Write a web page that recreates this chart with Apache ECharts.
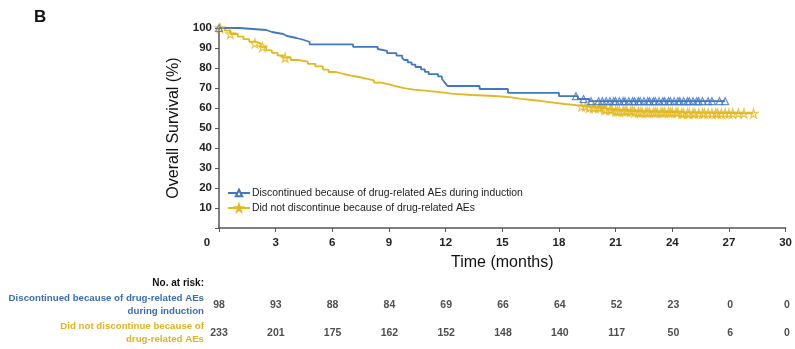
<!DOCTYPE html>
<html>
<head>
<meta charset="utf-8">
<script src="https://cdn.jsdelivr.net/npm/echarts@6/dist/echarts.min.js"></script>
<style>
  html, body { margin: 0; padding: 0; background: #fff; }
  #chart { width: 795px; height: 349px; }
</style>
</head>
<body>
<div id="chart"></div>
<script>
// Kaplan-Meier overall survival, months vs percent surviving
const seriesNames = [
  'Discontinued because of drug-related AEs during induction',
  'Did not discontinue because of drug-related AEs'
];
const riskRowLabels = [
  'Discontinued because of drug-related AEs\nduring induction',
  'Did not discontinue because of\ndrug-related AEs'
];

// Step points [month, survival % after the event]
const discCurve = [
  [0, 100], [1.1, 99], [2.5, 98], [2.8, 97], [3.4, 96], [3.6, 95], [4.1, 94], [4.5, 93],
  [4.8, 91.8], [7.1, 90.6], [8.4, 89.5], [8.5, 88.6], [8.9, 87.4], [9.4, 86.2], [9.7, 85.1],
  [9.8, 84.0], [10.0, 82.8], [10.2, 81.7], [10.4, 80.5], [10.7, 79.3], [10.9, 78.1],
  [11.1, 76.9], [11.6, 75.8], [11.8, 74.6], [11.9, 73.4], [12.0, 72.2], [12.1, 71.0],
  [13.8, 69.5], [15.3, 67.6], [18.0, 65.9], [19.0, 64.5], [19.6, 63.4], [26.8, 63.4]
];
const contCurve = [
  [0, 100], [0.3, 98.7], [0.6, 97.0], [1.0, 95.7], [1.3, 94.4], [1.6, 93.2], [1.9, 92.3],
  [2.2, 90.6], [2.5, 88.8], [2.8, 87.6], [3.1, 86.3], [3.4, 85.2], [3.8, 84.0], [4.2, 83.2],
  [4.7, 82.1], [5.1, 80.8], [5.5, 79.2], [5.8, 78.0], [6.2, 77.0], [6.6, 76.2], [7.0, 75.5],
  [7.4, 74.7], [7.8, 73.8], [8.2, 72.7], [8.6, 71.8], [9.0, 70.8], [9.4, 69.9], [9.8, 69.2],
  [10.3, 68.8], [10.8, 68.3], [11.3, 67.8], [11.8, 67.2], [12.3, 66.5], [13.4, 66.0],
  [14.6, 65.4], [15.4, 64.6], [16.0, 64.0], [16.6, 63.3], [17.2, 62.6], [17.8, 62.0],
  [18.3, 61.4], [18.9, 60.8], [19.6, 60.2], [20.3, 59.2], [20.9, 58.4], [22.0, 57.8],
  [24.5, 57.3], [28.3, 57.3]
];

// Censoring times (months)
const discCensored = [
  0, 18.9, 19.3, 19.7, 20.1, 20.3, 20.5, 20.7, 20.9, 21.0, 21.2, 21.4, 21.5, 21.7, 21.9,
  22.0, 22.2, 22.3, 22.5, 22.7, 22.8, 23.0, 23.1, 23.3, 23.5, 23.6, 23.8, 23.9, 24.1, 24.3,
  24.4, 24.6, 24.8, 24.9, 25.1, 25.3, 25.4, 25.6, 25.9, 26.1, 26.5, 26.8
];
const contCensored = [
  0.05, 0.6, 1.9, 2.3, 3.5, 19.2, 19.4, 19.6, 19.8, 19.9, 20.1, 20.2, 20.4, 20.5, 20.7,
  20.8, 21.0, 21.1, 21.2, 21.4, 21.5, 21.6, 21.8, 21.9, 22.0, 22.2, 22.3, 22.4, 22.6, 22.7,
  22.8, 23.0, 23.1, 23.2, 23.4, 23.5, 23.6, 23.8, 23.9, 24.0, 24.2, 24.3, 24.5, 24.6, 24.8,
  24.9, 25.1, 25.2, 25.4, 25.6, 25.7, 25.9, 26.1, 26.3, 26.4, 26.6, 26.8, 27.0, 27.2, 27.5,
  27.8, 28.3
];

// Numbers at risk
const riskTimes = [0, 3, 6, 9, 12, 15, 18, 21, 24, 27, 30];
const riskDisc = [98, 93, 88, 84, 69, 66, 64, 52, 23, 0, 0];
const riskCont = [233, 201, 175, 162, 152, 148, 140, 117, 50, 6, 0];

const yTicks = [10, 20, 30, 40, 50, 60, 70, 80, 90, 100];

const BLUE = '#4277c3';
const GOLD = '#e3b821';
const BLUE_TEXT = '#3b6db6';
const GOLD_TEXT = '#e2b320';
const FONT = "'Liberation Sans', Arial, sans-serif";
const STAR = 'path://M50,0 L61,35 L98,35 L68,57 L79,91 L50,70 L21,91 L32,57 L2,35 L39,35 Z';

// survival level in effect at time t on a step curve
function levelAt(curve, t) {
  let s = curve[0][1];
  for (const [ct, cs] of curve) { if (ct <= t) s = cs; else break; }
  return s;
}

const chart = echarts.init(document.getElementById('chart'), null, { renderer: 'canvas' });

chart.setOption({
  animation: false,
  backgroundColor: '#fff',
  textStyle: { fontFamily: FONT },
  title: {
    text: 'B', left: 29, top: 4,
    textStyle: { fontFamily: FONT, fontSize: 17, fontWeight: 'bold', color: '#111' }
  },
  graphic: [{
    type: 'text', right: 795 - 204, top: 278,
    style: { text: 'No. at risk:', font: "bold 10px " + FONT, fill: '#111', textAlign: 'right' }
  }],
  legend: {
    orient: 'vertical', left: 222, top: 183, itemGap: 5, itemWidth: 22, itemHeight: 8,
    textStyle: { fontFamily: FONT, fontSize: 10.4, color: '#1a1a1a', padding: [0, 0, 0, -3] },
    data: seriesNames
  },
  grid: [
    { left: 219, right: 8, top: 28, bottom: 121 },
    { left: 219, right: 8, top: 291, height: 56 }
  ],
  xAxis: [{
    type: 'value', min: 0, max: 30, interval: 3,
    name: 'Time (months)', nameLocation: 'middle', nameGap: 27,
    nameTextStyle: { fontFamily: FONT, fontSize: 16, color: '#111' },
    axisLine: { lineStyle: { color: '#555', width: 1.5 } },
    axisTick: { show: true, length: 4, lineStyle: { color: '#555' } },
    axisLabel: {
      fontFamily: FONT, fontSize: 11.5, fontWeight: 'bold', color: '#222', margin: 9,
      formatter: v => (v === 0 ? '{z|0}' : String(v)),
      rich: { z: { fontFamily: FONT, fontSize: 11.5, fontWeight: 'bold', color: '#222', padding: [0, 24, 0, 0] } }
    },
    splitLine: { show: false }
  }, {
    gridIndex: 1, type: 'value', min: 0, max: 30, interval: 3, show: false
  }],
  yAxis: [{
    type: 'value', min: 0, max: 100, interval: 10,
    name: 'Overall Survival (%)', nameLocation: 'middle', nameGap: 35, nameRotate: 90,
    nameTextStyle: { fontFamily: FONT, fontSize: 16, color: '#111' },
    axisLine: { show: true, lineStyle: { color: '#555', width: 1.5 } },
    axisTick: { show: true, length: 4, lineStyle: { color: '#555' } },
    axisLabel: {
      fontFamily: FONT, fontSize: 11.5, fontWeight: 'bold', color: '#222', margin: 7,
      formatter: v => (yTicks.includes(v) ? String(v) : '')
    },
    splitLine: { show: false }
  }, {
    gridIndex: 1, type: 'category', inverse: true, data: riskRowLabels,
    axisLine: { show: false }, axisTick: { show: false },
    axisLabel: {
      margin: 15, align: 'right',
      formatter: (v, i) => (i === 0 ? '{b|' + v.replace('\n', '}\n{b|') + '}' : '{g|' + v.replace('\n', '}\n{g|') + '}'),
      rich: {
        b: { fontFamily: FONT, fontSize: 9.7, fontWeight: 'bold', color: BLUE_TEXT, lineHeight: 12.5, align: 'right' },
        g: { fontFamily: FONT, fontSize: 9.7, fontWeight: 'bold', color: GOLD_TEXT, lineHeight: 12.5, align: 'right' }
      }
    }
  }],
  series: [
    {
      name: seriesNames[0], type: 'line', step: 'end', data: discCurve,
      showSymbol: false, symbol: 'emptyTriangle', symbolSize: 7,
      lineStyle: { color: BLUE, width: 1.8 }, itemStyle: { color: BLUE, borderColor: BLUE },
      z: 3
    },
    {
      name: seriesNames[1], type: 'line', step: 'end', data: contCurve,
      showSymbol: false, symbol: STAR, symbolSize: 9,
      lineStyle: { color: GOLD, width: 1.8 }, itemStyle: { color: 'rgba(255,255,255,0)', borderColor: GOLD, borderWidth: 1.2 },
      z: 2
    },
    {
      name: 'discCensor', type: 'scatter', symbol: 'triangle', symbolSize: 7,
      data: discCensored.map(t => [t, levelAt(discCurve, t)]),
      itemStyle: { color: 'rgba(255,255,255,0)', borderColor: BLUE, borderWidth: 1.2 },
      z: 4, silent: true
    },
    {
      name: 'contCensor', type: 'scatter', symbol: STAR, symbolSize: 9,
      data: contCensored.map(t => [t, levelAt(contCurve, t)]),
      itemStyle: { color: 'rgba(255,255,255,0)', borderColor: GOLD, borderWidth: 1.2 },
      z: 3, silent: true
    },
    {
      name: 'riskDisc', type: 'scatter', xAxisIndex: 1, yAxisIndex: 1, symbolSize: 1,
      itemStyle: { color: 'rgba(0,0,0,0)' },
      data: riskTimes.map((t, i) => [t, 0, riskDisc[i]]),
      label: { show: true, position: 'inside', formatter: p => String(p.value[2]),
        fontFamily: FONT, fontSize: 10.5, fontWeight: 'bold', color: '#222' }
    },
    {
      name: 'riskCont', type: 'scatter', xAxisIndex: 1, yAxisIndex: 1, symbolSize: 1,
      itemStyle: { color: 'rgba(0,0,0,0)' },
      data: riskTimes.map((t, i) => [t, 1, riskCont[i]]),
      label: { show: true, position: 'inside', formatter: p => String(p.value[2]),
        fontFamily: FONT, fontSize: 10.5, fontWeight: 'bold', color: '#222' }
    }
  ]
});
</script>
</body>
</html>
